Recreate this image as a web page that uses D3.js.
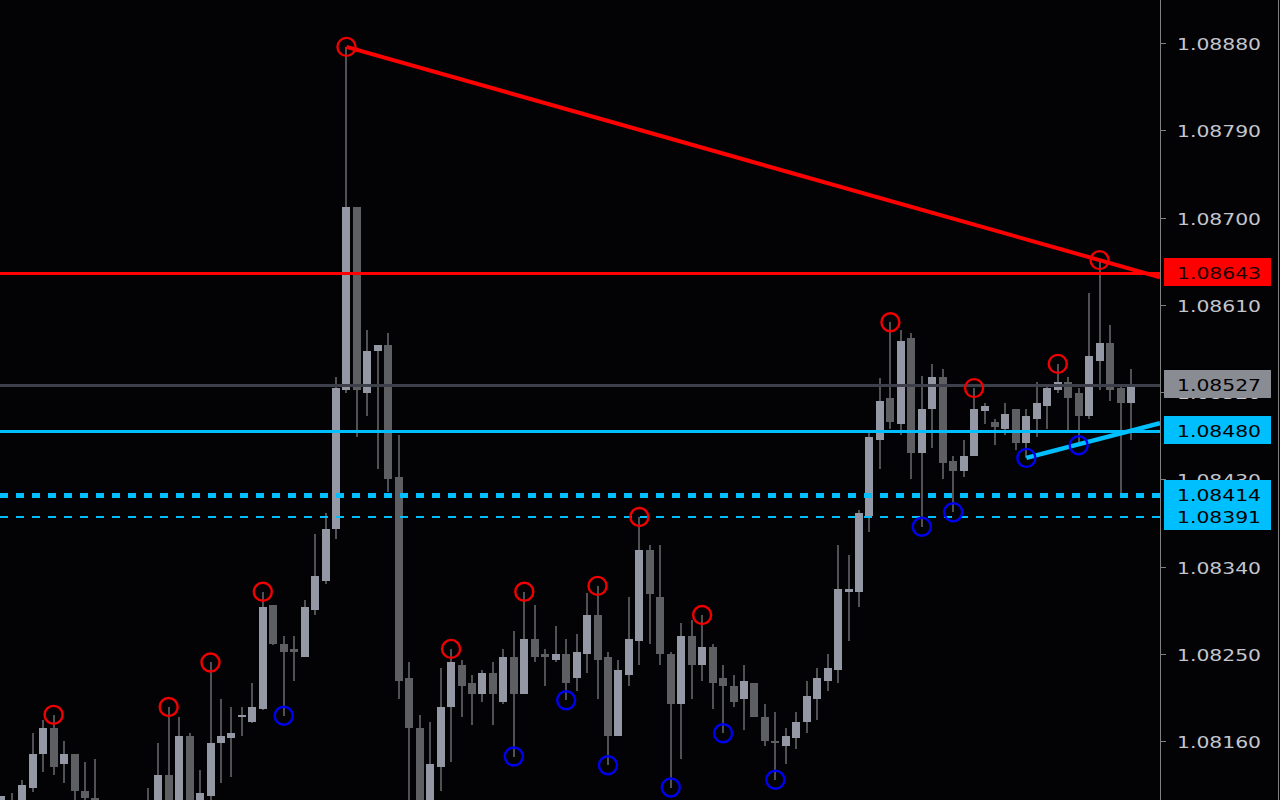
<!DOCTYPE html>
<html>
<head>
<meta charset="utf-8">
<script src="https://cdn.jsdelivr.net/npm/d3@7"></script>
<style>
html,body{margin:0;padding:0;background:#030306;overflow:hidden;}
svg{display:block;}
</style>
</head>
<body>
<svg id="chart" width="1280" height="800"></svg>
<script>
// ---- DATA (EURUSD-style prices) ----
const barIndex = d3.range(109);
const open = [
1.08087,1.08094,1.08091,1.08112,1.08147,1.08173,1.08136,1.08147,1.08108,1.08101,
1.08084,1.08068,1.08053,1.08073,1.08079,1.08094,1.08125,1.08087,1.08165,1.08094,
1.08103,1.08158,1.08163,1.08185,1.08180,1.08193,1.08300,1.08260,1.08255,1.08247,
1.08295,1.08325,1.08379,1.08522,1.08711,1.08519,1.08562,1.08568,1.08432,1.08225,
1.08173,1.08084,1.08133,1.08195,1.08238,1.08220,1.08208,1.08230,1.08200,1.08247,
1.08208,1.08265,1.08250,1.08244,1.08250,1.08225,1.08250,1.08290,1.08247,1.08165,
1.08228,1.08263,1.08357,1.08309,1.08250,1.08198,1.08268,1.08238,1.08257,1.08225,
1.08217,1.08203,1.08220,1.08185,1.08160,1.08155,1.08163,1.08180,1.08203,1.08222,
1.08233,1.08314,1.08314,1.08392,1.08470,1.08514,1.08487,1.08576,1.08457,1.08502,
1.08535,1.08449,1.08438,1.08454,1.08500,1.08489,1.08482,1.08502,1.08467,1.08492,
1.08506,1.08522,1.08530,1.08519,1.08495,1.08552,1.08571,1.08524,1.08509];
const high = [
1.08103,1.08106,1.08120,1.08168,1.08182,1.08187,1.08160,1.08147,1.08138,1.08141,
1.08094,1.08079,1.08084,1.08096,1.08112,1.08158,1.08195,1.08185,1.08168,1.08130,
1.08241,1.08203,1.08195,1.08195,1.08220,1.08314,1.08300,1.08268,1.08268,1.08305,
1.08374,1.08395,1.08535,1.08876,1.08711,1.08584,1.08568,1.08581,1.08476,1.08241,
1.08187,1.08180,1.08235,1.08255,1.08244,1.08228,1.08233,1.08241,1.08255,1.08273,
1.08314,1.08300,1.08255,1.08279,1.08265,1.08270,1.08313,1.08320,1.08252,1.08244,
1.08309,1.08391,1.08362,1.08362,1.08252,1.08282,1.08285,1.08290,1.08260,1.08238,
1.08228,1.08238,1.08220,1.08198,1.08190,1.08173,1.08190,1.08222,1.08235,1.08250,
1.08362,1.08352,1.08398,1.08481,1.08534,1.08592,1.08584,1.08581,1.08537,1.08549,
1.08544,1.08454,1.08470,1.08524,1.08509,1.08492,1.08509,1.08502,1.08502,1.08530,
1.08527,1.08549,1.08535,1.08524,1.08622,1.08656,1.08589,1.08527,1.08544];
const low = [
1.08079,1.08076,1.08087,1.08107,1.08128,1.08125,1.08117,1.08094,1.08094,1.08076,
1.08058,1.08048,1.08042,1.08063,1.08073,1.08089,1.08081,1.08084,1.08089,1.08087,
1.08094,1.08117,1.08123,1.08165,1.08179,1.08192,1.08259,1.08186,1.08222,1.08247,
1.08290,1.08322,1.08368,1.08519,1.08474,1.08495,1.08441,1.08417,1.08203,1.08089,
1.08079,1.08073,1.08108,1.08138,1.08185,1.08177,1.08200,1.08177,1.08198,1.08144,
1.08208,1.08241,1.08217,1.08241,1.08202,1.08212,1.08230,1.08203,1.08135,1.08165,
1.08217,1.08238,1.08260,1.08238,1.08112,1.08141,1.08203,1.08222,1.08193,1.08168,
1.08195,1.08171,1.08185,1.08155,1.08120,1.08136,1.08152,1.08168,1.08182,1.08212,
1.08220,1.08263,1.08298,1.08376,1.08441,1.08482,1.08476,1.08430,1.08381,1.08462,
1.08430,1.08396,1.08432,1.08454,1.08487,1.08465,1.08476,1.08460,1.08452,1.08474,
1.08482,1.08519,1.08481,1.08465,1.08492,1.08522,1.08511,1.08414,1.08470];
const close = [
1.08103,1.08084,1.08115,1.08147,1.08173,1.08133,1.08147,1.08108,1.08101,1.08084,
1.08068,1.08053,1.08073,1.08089,1.08094,1.08125,1.08087,1.08165,1.08094,1.08106,
1.08158,1.08165,1.08168,1.08187,1.08195,1.08298,1.08260,1.08252,1.08252,1.08298,
1.08330,1.08379,1.08524,1.08711,1.08522,1.08562,1.08568,1.08430,1.08222,1.08173,
1.08084,1.08136,1.08195,1.08241,1.08217,1.08208,1.08230,1.08208,1.08247,1.08208,
1.08265,1.08247,1.08247,1.08250,1.08220,1.08252,1.08290,1.08244,1.08165,1.08233,
1.08265,1.08357,1.08312,1.08250,1.08198,1.08268,1.08238,1.08257,1.08220,1.08217,
1.08200,1.08222,1.08185,1.08160,1.08158,1.08165,1.08180,1.08206,1.08225,1.08235,
1.08317,1.08317,1.08395,1.08474,1.08511,1.08489,1.08573,1.08457,1.08502,1.08535,
1.08447,1.08438,1.08454,1.08502,1.08506,1.08484,1.08497,1.08467,1.08495,1.08509,
1.08524,1.08530,1.08514,1.08495,1.08557,1.08571,1.08522,1.08509,1.08527];

const swingHighs = [5,16,20,25,33,43,50,57,61,67,85,93,101,105];
const swingLows  = [27,49,54,58,64,69,74,88,91,98,103];

const tickValues = [1.08160,1.08250,1.08340,1.08430,1.08520,1.08610,1.08700,1.08790,1.08880];

const levelNames  = ["resistance","bid","support","dashHigh","dashLow"];
const levelPrices = [1.08643, 1.08527, 1.08480, 1.08414, 1.08391];

const redTrendIdx = [33, 105];
const redTrendPrice = [1.08876, 1.08656];
const blueTrendIdx = [98, 103];
const blueTrendPrice = [1.08452, 1.08466];

// ---- LAYOUT ----
const W = 1280, H = 800, plotRight = 1160;
const svg = d3.select("#chart");
svg.append("rect").attr("width",W).attr("height",H).attr("fill","#030306");

const x = d3.scaleLinear().domain([0,108]).range([1.3,1131]);
const y = d3.scaleLinear().domain([1.08160,1.08880]).range([741,43]);

const defs = svg.append("defs");
defs.append("clipPath").attr("id","plotClip").append("rect")
  .attr("x",0).attr("y",0).attr("width",plotRight).attr("height",H);

const plot = svg.append("g").attr("clip-path","url(#plotClip)");

const bars = barIndex.map(i => ({i, o:open[i], h:high[i], l:low[i], c:close[i]}));
const BULL = "#9498a4", BEAR = "#5e5f63", WICK = "#505155";

// wicks
plot.append("g").selectAll("rect").data(bars).join("rect")
  .attr("x", d => Math.round(x(d.i)) - 1)
  .attr("width", 2)
  .attr("y", d => Math.round(y(d.h)))
  .attr("height", d => Math.max(1, Math.round(y(d.l)) - Math.round(y(d.h))))
  .attr("fill", WICK)
  .attr("shape-rendering","crispEdges");

// bodies
plot.append("g").selectAll("rect").data(bars).join("rect")
  .attr("x", d => Math.round(x(d.i)) - 4)
  .attr("width", 8)
  .attr("y", d => Math.round(y(Math.max(d.o,d.c))))
  .attr("height", d => Math.max(2, Math.round(y(Math.min(d.o,d.c))) - Math.round(y(Math.max(d.o,d.c)))))
  .attr("fill", d => d.c >= d.o ? BULL : BEAR)
  .attr("shape-rendering","crispEdges");

// horizontal levels
const levelStyle = {
  resistance:{color:"#ff0000", w:3, dash:null},
  bid:{color:"#3d3f4a", w:3, dash:null},
  support:{color:"#00bfff", w:3, dash:null},
  dashHigh:{color:"#00bfff", w:5, dash:"8,8"},
  dashLow:{color:"#00bfff", w:2, dash:"8,8"}
};
levelNames.forEach((n,k) => {
  const s = levelStyle[n];
  const yy = Math.round(y(levelPrices[k])) + (s.w % 2 ? 0.5 : 0);
  plot.append("line").attr("x1",0).attr("x2",plotRight).attr("y1",yy).attr("y2",yy)
    .attr("stroke",s.color).attr("stroke-width",s.w)
    .attr("stroke-dasharray",s.dash);
});

// trendlines (extended to the axis)
function extLine(idx, pr){
  const x1 = x(idx[0]), y1 = y(pr[0]), x2 = x(idx[1]), y2 = y(pr[1]);
  const slope = (y2-y1)/(x2-x1);
  return [[x1,y1],[plotRight, y1 + slope*(plotRight-x1)]];
}
const lineGen = d3.line();
plot.append("path").attr("d", lineGen(extLine(redTrendIdx, redTrendPrice)))
  .attr("stroke","#ff0000").attr("stroke-width",4).attr("fill","none");
plot.append("path").attr("d", lineGen(extLine(blueTrendIdx, blueTrendPrice)))
  .attr("stroke","#00bfff").attr("stroke-width",4.5).attr("fill","none");

// swing circles
plot.append("g").selectAll("circle").data(swingHighs).join("circle")
  .attr("cx", i => x(i)).attr("cy", i => y(high[i]))
  .attr("r", 9).attr("fill","none").attr("stroke","#f00000").attr("stroke-width",2.4);
plot.append("g").selectAll("circle").data(swingLows).join("circle")
  .attr("cx", i => x(i)).attr("cy", i => y(low[i]))
  .attr("r", 9).attr("fill","none").attr("stroke","#0000f0").attr("stroke-width",2.4);

// ---- PRICE AXIS ----
const axisG = svg.append("g");
axisG.append("line").attr("x1",plotRight+0.5).attr("x2",plotRight+0.5).attr("y1",0).attr("y2",H)
  .attr("stroke","#808080").attr("stroke-width",1);
axisG.append("line").attr("x1",W-1.5).attr("x2",W-1.5).attr("y1",0).attr("y2",H)
  .attr("stroke","#808080").attr("stroke-width",1);
const fmt = d3.format(".5f");
tickValues.forEach(v => {
  const yy = Math.round(y(v));
  axisG.append("line").attr("x1",plotRight).attr("x2",plotRight+6).attr("y1",yy+0.5).attr("y2",yy+0.5)
    .attr("stroke","#808080");
  axisG.append("text").attr("x",1177).attr("y",yy+1).attr("dominant-baseline","central")
    .attr("font-family","DejaVu Sans").attr("font-size",16).attr("fill","#c4c6cc")
    .attr("textLength",84).attr("lengthAdjust","spacingAndGlyphs")
    .text(fmt(v));
});

// level labels on axis
const labelFill = {resistance:"#ff0000", bid:"#8a8c94", support:"#00bfff", dashHigh:"#00bfff", dashLow:"#00bfff"};
const labelText = {resistance:"#200000", bid:"#000000", support:"#000000", dashHigh:"#000000", dashLow:"#000000"};
levelNames.forEach((n,k) => {
  const yy = Math.round(y(levelPrices[k]));
  axisG.append("rect").attr("x",1164).attr("y",yy-15).attr("width",107).attr("height",28)
    .attr("fill",labelFill[n]);
});
levelNames.forEach((n,k) => {
  const yy = Math.round(y(levelPrices[k]));
  axisG.append("text").attr("x",1177).attr("y",yy).attr("dominant-baseline","central")
    .attr("font-family","DejaVu Sans").attr("font-size",16).attr("fill",labelText[n])
    .attr("textLength",84).attr("lengthAdjust","spacingAndGlyphs")
    .text(fmt(levelPrices[k]));
});
</script>
</body>
</html>
